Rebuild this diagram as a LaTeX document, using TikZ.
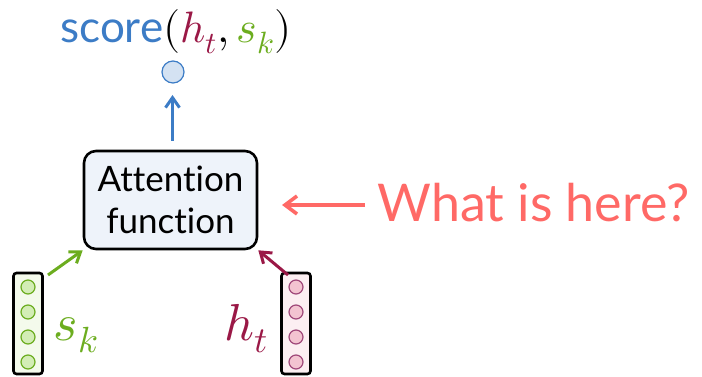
\documentclass[tikz,border=0pt]{standalone}
\usepackage{fontspec}
\usepackage{unicode-math}
\setmainfont[Ligatures={NoCommon,NoRequired}]{Lato}
\setmathfont{Latin Modern Math}
\usetikzlibrary{arrows.meta}
\definecolor{scoreblue}{HTML}{3C7CC6}
\definecolor{boxfill}{HTML}{EEF3FA}
\definecolor{srcgreen}{HTML}{6CAD1F}
\definecolor{srcfill}{HTML}{F4FAEC}
\definecolor{srcunit}{HTML}{D3EDB5}
\definecolor{tgtred}{HTML}{9A1846}
\definecolor{tgtfill}{HTML}{FCEFF2}
\definecolor{tgtunit}{HTML}{F3C4D1}
\definecolor{tgtedge}{HTML}{A0487A}
\definecolor{askred}{HTML}{FF6966}
\begin{document}
\begin{tikzpicture}[x=1pt, y=-1pt,
    vecbox/.style={draw=black, line width=2.6pt, rounded corners=3pt,
        minimum width=29pt, minimum height=101pt, inner sep=0pt},
    unit/.style={circle, line width=1.2pt, minimum size=14pt, inner sep=0pt},
    conn/.style={line width=3pt, -{Straight Barb[length=10pt, width=14pt]}}]
    \useasboundingbox (0,0) rectangle (702,377);
    % the score on top
    \node[font=\fontsize{44}{48}\selectfont, anchor=base] (score) at (176,43)
        {\textcolor{scoreblue}{score}$(\textcolor{tgtred}{h_t}, \textcolor{srcgreen}{s_k})$};
    \node[unit, draw=scoreblue, fill=scoreblue!22, minimum size=22pt] (out) at (173,72) {};
    % attention block
    \node[draw=black, line width=2.6pt, rounded corners=12pt, fill=boxfill,
        minimum width=173pt, minimum height=98pt, align=center,
        font=\fontsize{35}{42}\selectfont] (att) at (170.5,200) {Attention\\function};
    \coordinate (attin) at (172.5,141);
    \coordinate (outin) at (172.5,95);
    \draw[conn, scoreblue] (attin) -- (outin);
    % source vector s_k
    \node[vecbox, fill=srcfill] (sk) at (28,323.5) {};
    \foreach \i/\y in {1/287, 2/312, 3/337, 4/362}
        \node[unit, draw=srcgreen, fill=srcunit] (sk\i) at (28,\y) {};
    \node[text=srcgreen, font=\fontsize{52}{52}\selectfont, anchor=base] (sklab) at (76,340) {$s_k$};
    % target vector h_t
    \node[vecbox, fill=tgtfill] (ht) at (296,323.5) {};
    \foreach \i/\y in {1/287, 2/312, 3/337, 4/362}
        \node[unit, draw=tgtedge, fill=tgtunit] (ht\i) at (296,\y) {};
    \node[text=tgtred, font=\fontsize{52}{52}\selectfont, anchor=base] (htlab) at (246,340) {$h_t$};
    \coordinate (skout) at (48,275);
    \coordinate (htout) at (288,275);
    \draw[conn, srcgreen] (skout) -- (att.south west);
    \draw[conn, tgtred] (htout) -- (att.south east);
    % the open question
    \node[text=askred, font=\fontsize{52}{58}\selectfont, anchor=base west] (ask) at (374,222) {What is here?};
    \coordinate (askout) at (365,205);
    \coordinate (askin) at (282,205);
    \draw[askred, line width=3.6pt, -{Straight Barb[length=12pt, width=18pt]}] (askout) -- (askin);
\end{tikzpicture}
\end{document}
